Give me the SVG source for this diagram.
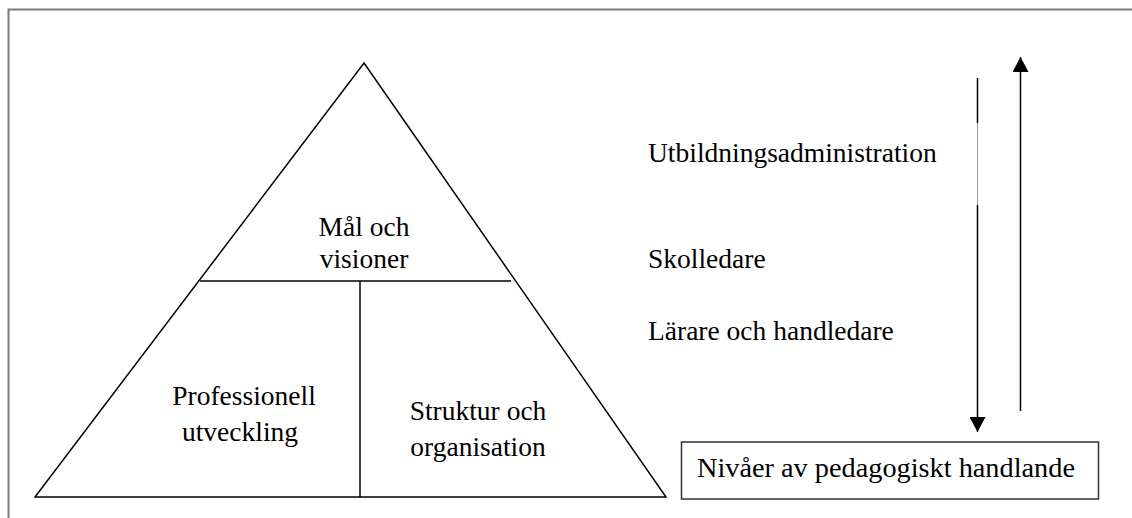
<svg xmlns="http://www.w3.org/2000/svg" width="1132" height="518" viewBox="0 0 1132 518">
<style>
.t{font-family:"Liberation Serif","Times New Roman",serif;font-size:27.5px;fill:#000}
.c{text-anchor:middle}
.ln{stroke:#000;stroke-width:1.5;fill:none}
</style>
<defs>
<marker id="ah" viewBox="0 0 15 16" refX="15" refY="8" markerWidth="15" markerHeight="16" markerUnits="userSpaceOnUse" orient="auto">
<path d="M0,0 L15,8 L0,16 Z" fill="#000"/>
</marker>
</defs>
<rect width="1132" height="518" fill="#fff"/>
<g id="frame">
<path d="M8.5,518 V9.5 H1132" stroke="#7a7a7a" stroke-width="2" fill="none"/>
</g>
<g id="pyramid">
<polygon class="ln" points="364,63 666,497 35,497"/>
<line class="ln" x1="200" y1="281" x2="511" y2="281"/>
<line class="ln" x1="360" y1="281" x2="360" y2="497"/>
</g>
<g id="node-mal">
<text class="t c" x="364" y="236">Mål och</text>
<text class="t c" x="364" y="268">visioner</text>
</g>
<g id="node-prof">
<text class="t c" x="244" y="405">Professionell</text>
<text class="t c" x="240" y="441">utveckling</text>
</g>
<g id="node-struktur">
<text class="t c" x="478" y="420">Struktur och</text>
<text class="t c" x="478" y="456">organisation</text>
</g>
<g id="node-utb"><text class="t" x="648" y="162">Utbildningsadministration</text></g>
<g id="node-skol"><text class="t" x="648" y="268">Skolledare</text></g>
<g id="node-lar"><text class="t" x="648" y="340">Lärare och handledare</text></g>
<g id="node-nivaer">
<rect x="681.5" y="442" width="417" height="57" fill="#fff" stroke="#333" stroke-width="1.5"/>
<text class="t" x="697" y="477" style="font-size:28.3px">Nivåer av pedagogiskt handlande</text>
</g>
<g id="connectors">
<line class="ln" x1="977.5" y1="78" x2="977.5" y2="123"/>
<line x1="977.5" y1="123" x2="977.5" y2="205" stroke="#999" stroke-width="1"/>
<line class="ln" x1="977.5" y1="205" x2="977.5" y2="432" marker-end="url(#ah)"/>
<line class="ln" x1="1020.5" y1="411" x2="1020.5" y2="57" marker-end="url(#ah)"/>
</g>
</svg>
